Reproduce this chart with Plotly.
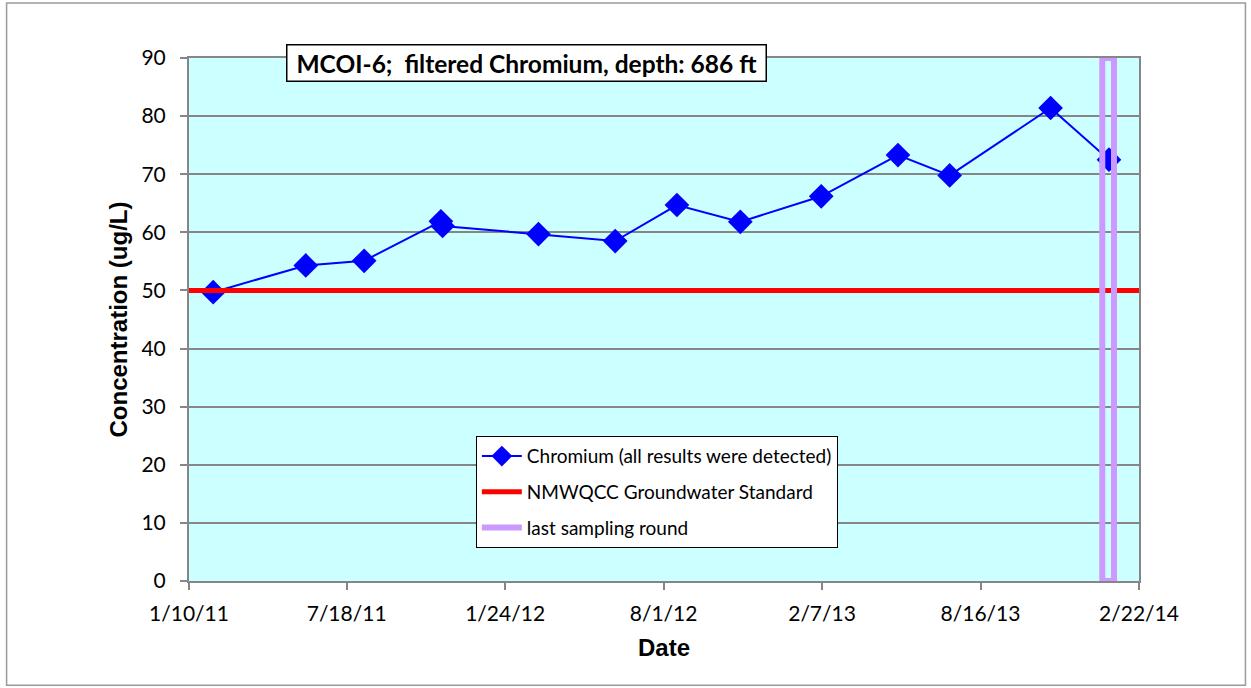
import plotly.graph_objects as go
import pandas as pd

# ---- data ----
sample_dates = ["2011-02-08", "2011-05-30", "2011-08-08", "2011-11-08", "2011-11-10",
                "2012-03-04", "2012-06-04", "2012-08-17", "2012-11-01", "2013-02-06",
                "2013-05-09", "2013-07-10", "2013-11-08", "2014-01-17"]
chromium = [49.7, 54.3, 55.1, 61.9, 61.1, 59.7, 58.5, 64.7, 61.8, 66.2, 73.3, 69.8, 81.4, 72.5]

standard_value = 50
last_round_date = "2014-01-16"
last_round_halfwidth_days = 7

x_ticks = ["2011-01-10", "2011-07-18", "2012-01-24", "2012-08-01",
           "2013-02-07", "2013-08-16", "2014-02-22"]
x_tick_labels = ["1/10/11", "7/18/11", "1/24/12", "8/1/12", "2/7/13", "8/16/13", "2/22/14"]
y_ticks = [0, 10, 20, 30, 40, 50, 60, 70, 80, 90]

x_min, x_max = x_ticks[0], x_ticks[-1]
y_min, y_max = 0, 90

title_text = "MCOI-6;  filtered Chromium, depth: 686 ft"

# ---- figure ----
fig = go.Figure()

fig.add_trace(go.Scatter(
    x=sample_dates, y=chromium, mode="lines+markers",
    name="Chromium (all results were detected)", legendgroup="a",
    line=dict(color="#0000FF", width=2),
    marker=dict(symbol="diamond", size=19, color="#0000FF"),
))

fig.add_trace(go.Scatter(
    x=[x_min, x_max], y=[standard_value, standard_value], mode="lines",
    name="NMWQCC Groundwater Standard", legendgroup="b",
    line=dict(color="#FF0000", width=5),
))

c = pd.Timestamp(last_round_date)
hw = pd.Timedelta(days=last_round_halfwidth_days)
rx = [c - hw, c - hw, c + hw, c + hw, c - hw]
ry = [y_min, y_max, y_max, y_min, y_min]
fig.add_trace(go.Scatter(
    x=rx, y=ry, mode="lines",
    name="last sampling round", legendgroup="c",
    line=dict(color="#CC99FF", width=6),
))

axis_col = "#868686"
L, T, PW, PH = 189, 58, 950.5, 522.7
fig.update_layout(
    width=1251, height=688,
    margin=dict(l=L, r=1251 - L - PW, t=T, b=688 - T - PH),
    paper_bgcolor="white", plot_bgcolor="#CCFFFF",
    font=dict(family="Lato, sans-serif", size=21, color="black"),
    showlegend=True,
    legend=dict(
        x=(476 - L) / PW, y=(T + PH - 436) / PH, xanchor="left", yanchor="top",
        bgcolor="white", bordercolor="black", borderwidth=1,
        font=dict(family="Lato, sans-serif", size=19, color="black"),
        tracegroupgap=8, traceorder="grouped",
        itemwidth=40,
    ),
    xaxis=dict(
        type="date", range=[x_min, x_max],
        tickmode="array", tickvals=x_ticks, ticktext=x_tick_labels,
        showgrid=False, showline=True, linecolor=axis_col, linewidth=2, mirror=True,
        ticks="outside", ticklen=7, tickcolor=axis_col, tickwidth=1.5,
        ticklabelstandoff=6,
        tickfont=dict(size=21),
        title=dict(text="<b>Date</b>", font=dict(family="Liberation Sans, Arial", size=24), standoff=15),
        zeroline=False,
    ),
    yaxis=dict(
        range=[y_min, y_max], tickmode="array", tickvals=y_ticks,
        showgrid=True, gridcolor=axis_col, gridwidth=1.5,
        showline=True, linecolor=axis_col, linewidth=2, mirror=True,
        ticks="outside", ticklen=7, tickcolor=axis_col, tickwidth=1.5,
        ticklabelstandoff=10,
        tickfont=dict(size=21),
        title=dict(text="<b>Concentration (ug/L)</b>", font=dict(family="Liberation Sans, Arial", size=24), standoff=7),
        zeroline=False,
    ),
    annotations=[dict(
        text="<b>\u00a0" + title_text + "\u00a0</b>", xref="paper", yref="paper",
        x=(526.5 - L) / PW, y=(T + PH - 62.5) / PH, xanchor="center", yanchor="middle", showarrow=False,
        bgcolor="white", bordercolor="black", borderwidth=1.5, borderpad=3,
        font=dict(family="Lato, sans-serif", size=24.5, color="black"),
    )],
    shapes=[dict(
        type="rect", xref="paper", yref="paper",
        x0=(6.5 - L) / PW, x1=(1246 - L) / PW, y0=(T + PH - 685) / PH, y1=(T + PH - 3) / PH,
        line=dict(color="#9a9a9a", width=1.5), fillcolor="rgba(0,0,0,0)", layer="below",
    )],
)

fig.write_html("out.html", config={"displayModeBar": False},
               post_script="document.body.style.margin='0';")
